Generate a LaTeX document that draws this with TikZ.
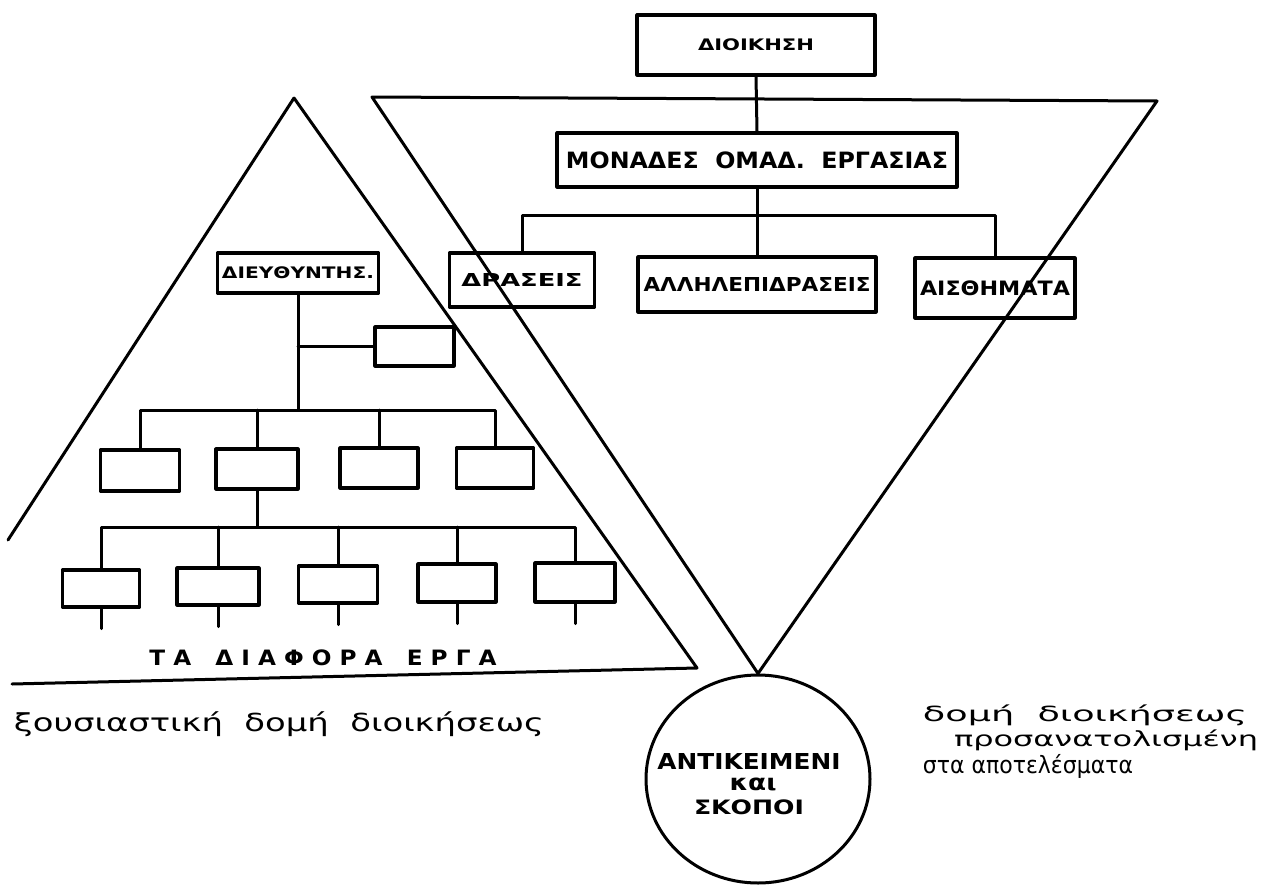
\documentclass[tikz,border=0pt]{standalone}
\usepackage{fontspec}
\usepackage{graphicx}
\setmainfont{DejaVu Sans}
\usetikzlibrary{shapes.geometric}
\newcommand{\fitbox}[3]{\resizebox*{#1}{#2}{#3}}
\tikzset{
  box/.style={draw, rectangle, line width=3.2pt, inner sep=0pt},
  lbl/.style={inner sep=0pt},
  circ/.style={draw, ellipse, line width=3pt, inner sep=0pt, minimum width=224pt, minimum height=208pt},
  stub/.style={line width=3pt}
}
\begin{document}
\begin{tikzpicture}[x={(1pt,0)}, y={(0,-1pt)}, line width=3pt, line cap=round, line join=round]
\useasboundingbox (0,0) rectangle (1263,891);
\fill[white] (0,0) rectangle (1263,891);

% ---------- left (pyramid) structure ----------
\draw (294,98) -- (8,540);
\draw (294,98) -- (697,668) -- (12,684);

\node[box, minimum width=161pt, minimum height=40pt] (dieyth) at (298,273) {\fitbox{152pt}{12pt}{\bfseries ΔΙΕΥΘΥΝΤΗΣ.}};
\node[box, minimum width=79pt, minimum height=39pt] (staff) at (414.5,346.5) {};

\node[box, minimum width=79pt, minimum height=41pt] (b21) at (140,470.5) {};
\node[box, minimum width=82pt, minimum height=40pt] (b22) at (257,469) {};
\node[box, minimum width=78pt, minimum height=40pt] (b23) at (379,468) {};
\node[box, minimum width=77pt, minimum height=40pt] (b24) at (495,468) {};

\node[box, minimum width=77pt, minimum height=37pt] (b31) at (101,588.5) {};
\node[box, minimum width=82pt, minimum height=37pt] (b32) at (218,586.5) {};
\node[box, minimum width=79pt, minimum height=37pt] (b33) at (338,584.5) {};
\node[box, minimum width=78pt, minimum height=38pt] (b34) at (457,583) {};
\node[box, minimum width=80pt, minimum height=39pt] (b35) at (575,582.5) {};

\coordinate (h2) at (0,410);
\coordinate (h3) at (0,527);
\draw (dieyth.south) -- (dieyth.south |- h2);
\draw (dieyth.south |- staff.west) -- (staff.west);
\draw (b21.north) |- (b24.north |- h2) -- (b24.north);
\draw (b22.north) -- (b22.north |- h2);
\draw (b23.north) -- (b23.north |- h2);

\draw (b22.south) -- (b22.south |- h3);
\draw (b31.north) |- (b35.north |- h3) -- (b35.north);
\draw (b32.north) -- (b32.north |- h3);
\draw (b33.north) -- (b33.north |- h3);
\draw (b34.north) -- (b34.north |- h3);

\foreach \b in {b31,b32,b33,b34,b35} {\draw[stub] (\b.south) -- ++(0,20);}

\node[lbl] (erga) at (323,658) {\fitbox{347pt}{16pt}{\bfseries Τ Α \ \ Δ Ι Α Φ Ο Ρ Α \ \ Ε Ρ Γ Α}};
\node[lbl] (capL) at (279,724) {\fitbox{530pt}{25pt}{ξουσιαστική \ δομή \ διοικήσεως}};

% ---------- right (inverted) structure ----------
\node[circ] (goal) at (758,779) {};
\draw (goal.north) -- (372,97) -- (1157,101) -- cycle;

\node[box, minimum width=238pt, minimum height=60pt] (dioik) at (756,45) {\fitbox{116pt}{12pt}{\bfseries ΔΙΟΙΚΗΣΗ}};
\node[box, minimum width=400pt, minimum height=54pt] (monades) at (757,160) {\fitbox{382pt}{17pt}{\bfseries ΜΟΝΑΔΕΣ \ ΟΜΑΔ. \ ΕΡΓΑΣΙΑΣ}};
\node[box, minimum width=145pt, minimum height=54pt] (draseis) at (522,280) {\fitbox{121pt}{13pt}{\bfseries ΔΡΑΣΕΙΣ}};
\node[box, minimum width=238pt, minimum height=55pt] (allil) at (757,284.5) {\fitbox{227pt}{14pt}{\bfseries ΑΛΛΗΛΕΠΙΔΡΑΣΕΙΣ}};
\node[box, minimum width=160pt, minimum height=60pt] (aisth) at (995,288) {\fitbox{150pt}{15pt}{\bfseries ΑΙΣΘΗΜΑΤΑ}};

\draw (dioik.south) -- (monades.north);
\draw (monades.south) -- (allil.north);
\draw (draseis.north) -- ++(0,-36) -| (aisth.north);

\node[lbl] (g1) at (749,761) {\fitbox{183pt}{16pt}{\bfseries ΑΝΤΙΚΕΙΜΕΝΙ}};
\node[lbl] (g2) at (753,784) {\fitbox{47pt}{13pt}{\bfseries και}};
\node[lbl] (g3) at (749,807) {\fitbox{110pt}{15pt}{\bfseries ΣΚΟΠΟΙ}};

\node[lbl] (r1) at (1085,715) {\fitbox{324pt}{21pt}{δομή \ διοικήσεως}};
\node[lbl] (r2) at (1106,740) {\fitbox{304pt}{21pt}{προσανατολισμένη}};
\node[lbl] (r3) at (1028,766) {\fitbox{210pt}{24pt}{στα αποτελέσματα}};
\end{tikzpicture}
\end{document}
